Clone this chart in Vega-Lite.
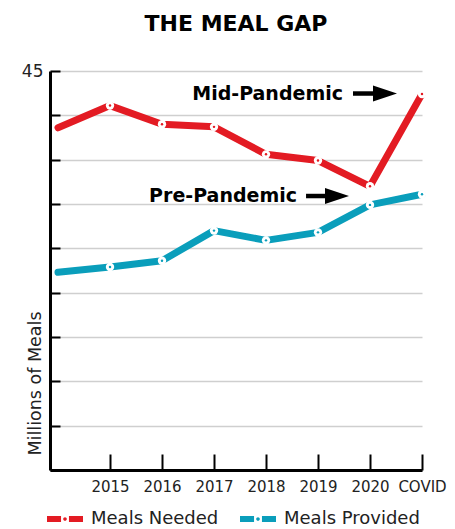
{
  "$schema": "https://vega.github.io/schema/vega-lite/v6.json",
  "autosize": "none",
  "width": 372,
  "height": 399,
  "padding": {"left": 50, "top": 71, "right": 33, "bottom": 59},
  "background": "white",
  "title": {"text": "THE MEAL GAP", "font": "DejaVu Sans", "fontSize": 22, "fontWeight": "bold", "color": "#000", "anchor": "middle", "offset": 26},
  "config": {
    "view": {"stroke": null},
    "font": "DejaVu Sans"
  },
  "datasets": {
    "meals": [
      {"year": 2014, "series": "Meals Needed", "meals": 38.6},
      {"year": 2015, "series": "Meals Needed", "meals": 41.1},
      {"year": 2016, "series": "Meals Needed", "meals": 39.0},
      {"year": 2017, "series": "Meals Needed", "meals": 38.7},
      {"year": 2018, "series": "Meals Needed", "meals": 35.6},
      {"year": 2019, "series": "Meals Needed", "meals": 34.9},
      {"year": 2020, "series": "Meals Needed", "meals": 32.0},
      {"year": 2021, "series": "Meals Needed", "meals": 42.4},
      {"year": 2014, "series": "Meals Provided", "meals": 22.3},
      {"year": 2015, "series": "Meals Provided", "meals": 22.9},
      {"year": 2016, "series": "Meals Provided", "meals": 23.6},
      {"year": 2017, "series": "Meals Provided", "meals": 27.0},
      {"year": 2018, "series": "Meals Provided", "meals": 25.9},
      {"year": 2019, "series": "Meals Provided", "meals": 26.8},
      {"year": 2020, "series": "Meals Provided", "meals": 29.9},
      {"year": 2021, "series": "Meals Provided", "meals": 31.1}
    ],
    "notes": [
      {"label": "Mid-Pandemic", "tx": 2019.48, "ty": 42.46, "ax1": 2019.673, "ax2": 2020.2, "hx": 2020.288},
      {"label": "Pre-Pandemic", "tx": 2018.596, "ty": 30.9, "ax1": 2018.77, "ax2": 2019.28, "hx": 2019.365}
    ]
  },
  "layer": [
    {
      "data": {"name": "meals"},
      "mark": {"type": "line", "strokeWidth": 7, "strokeCap": "round", "strokeJoin": "round"},
      "encoding": {
        "x": {"field": "year", "type": "quantitative",
          "scale": {"domain": [2013.846, 2021], "nice": false, "zero": false},
          "axis": {"title": null, "values": [2015, 2016, 2017, 2018, 2019, 2020, 2021],
            "labelExpr": "datum.value == 2021 ? 'COVID' : datum.value",
            "grid": false, "domainColor": "#000", "domainWidth": 3,
            "tickColor": "#000", "tickWidth": 2, "tickSize": -16,
            "labelFont": "DejaVu Sans", "labelFontSize": 15, "labelColor": "#222", "labelPadding": 25, "labelFlush": false, "labelOverlap": false}},
        "y": {"field": "meals", "type": "quantitative",
          "scale": {"domain": [0, 45], "nice": false},
          "axis": {"title": "Millions of Meals", "values": [0, 5, 10, 15, 20, 25, 30, 35, 40, 45],
            "labelExpr": "datum.value == 45 ? '45' : ''",
            "grid": true, "gridColor": "#cfcfcf", "gridWidth": 1.5,
            "domainColor": "#000", "domainWidth": 3,
            "tickColor": "#000", "tickWidth": 2, "tickSize": -10,
            "labelFont": "DejaVu Sans", "labelFontSize": 17, "labelColor": "#222", "labelPadding": 17,
            "titleFont": "DejaVu Sans", "titleFontSize": 17.5, "titleFontWeight": "normal", "titleColor": "#222",
            "titleAnchor": "start", "titleX": -15, "titleY": 384, "titleAlign": "left", "titleBaseline": "middle", "titleAngle": -90}},
        "color": {"field": "series", "type": "nominal",
          "scale": {"domain": ["Meals Needed", "Meals Provided"], "range": ["#E31B23", "#0A9EBB"]},
          "legend": {"title": null, "orient": "none", "direction": "horizontal", "legendX": -3, "legendY": 430,
            "symbolType": "M-1,-0.17H-0.22V0.17H-1Z M-0.1,0A0.1,0.1 0 1,0 0.1,0A0.1,0.1 0 1,0 -0.1,0Z M0.22,-0.17H1V0.17H0.22Z",
            "symbolSize": 1296, "symbolStrokeWidth": 0,
            "labelFont": "DejaVu Sans", "labelFontSize": 18, "labelColor": "#222", "labelOffset": 8, "columnPadding": 21,
            "encode": {"symbols": {"update": {"fill": {"scale": "color", "field": "value"}, "strokeWidth": {"value": 0}, "opacity": {"value": 1}}}}}}
      }
    },
    {
      "data": {"name": "meals"},
      "transform": [{"filter": "datum.year > 2014"}],
      "mark": {"type": "point", "filled": true, "color": "white", "size": 70, "opacity": 1, "strokeWidth": 0},
      "encoding": {
        "x": {"field": "year", "type": "quantitative"},
        "y": {"field": "meals", "type": "quantitative"}
      }
    },
    {
      "data": {"name": "meals"},
      "transform": [{"filter": "datum.year > 2014"}],
      "mark": {"type": "circle", "size": 6, "opacity": 1},
      "encoding": {
        "x": {"field": "year", "type": "quantitative"},
        "y": {"field": "meals", "type": "quantitative"},
        "color": {"field": "series", "type": "nominal", "legend": null}
      }
    },
    {
      "data": {"name": "notes"},
      "mark": {"type": "text", "align": "right", "baseline": "middle", "font": "DejaVu Sans", "fontWeight": "bold", "fontSize": 19, "color": "#000"},
      "encoding": {
        "x": {"field": "tx", "type": "quantitative"},
        "y": {"field": "ty", "type": "quantitative"},
        "text": {"field": "label"}
      }
    },
    {
      "data": {"name": "notes"},
      "mark": {"type": "rule", "strokeWidth": 4.5, "color": "#000"},
      "encoding": {
        "x": {"field": "ax1", "type": "quantitative"},
        "x2": {"field": "ax2"},
        "y": {"field": "ty", "type": "quantitative"}
      }
    },
    {
      "data": {"name": "notes"},
      "mark": {"type": "point", "shape": "M-1,-0.67L1,0L-1,0.67Z", "filled": true, "color": "#000", "size": 576, "opacity": 1, "strokeWidth": 0},
      "encoding": {
        "x": {"field": "hx", "type": "quantitative"},
        "y": {"field": "ty", "type": "quantitative"}
      }
    }
  ]
}
